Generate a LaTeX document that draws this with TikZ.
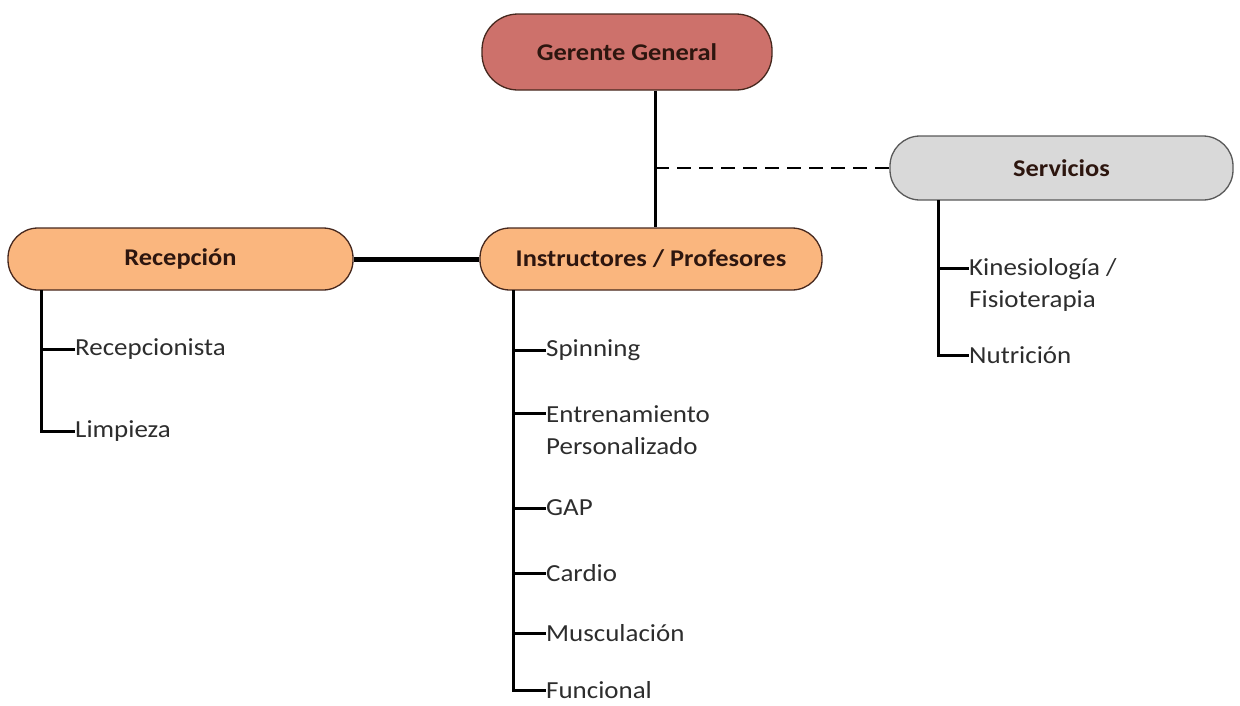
\documentclass[tikz,border=0pt]{standalone}
\usepackage{fontspec}
\setmainfont[FakeStretch=1.1]{Carlito}
\definecolor{redfill}{RGB}{205,113,107}
\definecolor{orangefill}{RGB}{250,182,126}
\definecolor{grayfill}{RGB}{217,217,217}
\definecolor{boxline}{RGB}{70,40,30}
\definecolor{headtext}{RGB}{45,22,15}
\definecolor{leaftext}{RGB}{45,45,45}
\begin{document}
\begin{tikzpicture}[x=1pt,y=-1pt,
  box/.style={draw=boxline,line width=1.3pt,rounded corners=30pt,
    font=\fontsize{24}{28}\selectfont\bfseries,text=headtext,inner sep=0pt},
  leaf/.style={anchor=west,inner sep=0pt,align=left,
    font=\fontsize{24.5}{32.5}\selectfont,text=leaftext},
  conn/.style={line width=3pt,black},
  tick/.style={line width=3pt,black},
  thick conn/.style={line width=5pt,black},
  dash conn/.style={line width=1.6pt,black,dash pattern=on 14pt off 8pt}]
\useasboundingbox (0,0) rectangle (1240,705);

% boxes
\node[box,fill=redfill,rounded corners=36pt,minimum width=290pt,minimum height=76pt] (ger) at (627,52) {Gerente General};
\node[box,fill=grayfill,draw=black!65,minimum width=343pt,minimum height=64pt] (srv) at (1061.5,168) {Servicios};
\node[box,fill=orangefill,minimum width=345pt,minimum height=62pt] (rec) at (180.5,259) {Recepción};
\node[box,fill=orangefill,minimum width=342pt,minimum height=62pt] (ins) at (651,259) {Instructores / Profesores};

% main connectors
\coordinate (trunk) at (655,168);
\draw[conn] (ger.south -| trunk) -- (ins.north -| trunk);
\draw[dash conn] (trunk) -- (srv.west);
\draw[thick conn] (rec.east) -- (ins.west);

% Recepcion children
\node[leaf] (rcp) at (75,349) {Recepcionista};
\node[leaf] (lim) at (75,431) {Limpieza};
\coordinate (rb) at (41,290);
\draw[conn] (rb) |- (lim.west);
\draw[tick] (rb |- rcp.west) -- (rcp.west);

% Instructores children
\node[leaf] (spi) at (546,350) {Spinning};
\node[leaf] (ent) at (546,430) {Entrenamiento\\Personalizado};
\node[leaf] (gap) at (546,508) {GAP};
\node[leaf] (car) at (546,573) {Cardio};
\node[leaf] (mus) at (546,633) {Musculación};
\node[leaf] (fun) at (546,690) {Funcional};
\coordinate (entT) at ([yshift=16.25pt]ent.west);
\coordinate (ib) at (513,290);
\draw[conn] (ib) |- (fun.west);
\draw[tick] (ib |- spi.west) -- (spi.west);
\draw[tick] (ib |- entT) -- (entT);
\draw[tick] (ib |- gap.west) -- (gap.west);
\draw[tick] (ib |- car.west) -- (car.west);
\draw[tick] (ib |- mus.west) -- (mus.west);

% Servicios children
\node[leaf] (kin) at (969,285) {Kinesiología /\\Fisioterapia};
\node[leaf] (nut) at (969,355) {Nutrición};
\coordinate (kinT) at ([yshift=16.25pt]kin.west);
\coordinate (sb) at (938,200);
\draw[conn] (sb) |- (nut.west);
\draw[tick] (sb |- kinT) -- (kinT);
\end{tikzpicture}
\end{document}
